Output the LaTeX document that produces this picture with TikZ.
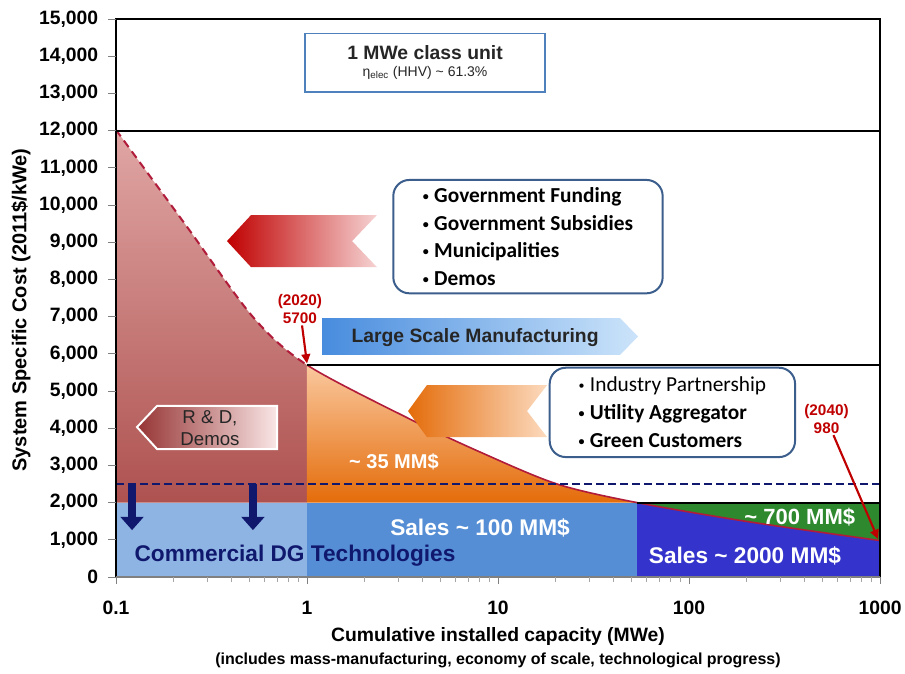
\documentclass[tikz,border=0pt]{standalone}
\usepackage{fontspec}
\setmainfont{Liberation Sans}
\newfontfamily\calibri{Carlito}
\usetikzlibrary{arrows.meta}

\definecolor{rdtop}{RGB}{224,166,164}
\definecolor{rdbot}{RGB}{174,82,80}
\definecolor{ortop}{RGB}{250,200,158}
\definecolor{orbot}{RGB}{228,108,10}
\definecolor{orlight}{RGB}{252,218,190}
\definecolor{ltblue}{RGB}{142,180,227}
\definecolor{mdblue}{RGB}{85,142,213}
\definecolor{dkblue}{RGB}{52,52,204}
\definecolor{dkgreen}{RGB}{46,136,46}
\definecolor{navy}{RGB}{16,24,110}
\definecolor{crimson}{RGB}{176,28,58}
\definecolor{annred}{RGB}{192,0,0}
\definecolor{pinklight}{RGB}{246,210,210}
\definecolor{rndleft}{RGB}{150,52,52}
\definecolor{rndright}{RGB}{250,230,230}
\definecolor{lsmleft}{RGB}{72,140,222}
\definecolor{lsmright}{RGB}{204,228,250}
\definecolor{boxblue}{RGB}{79,129,189}
\definecolor{roundblue}{RGB}{60,94,140}
\definecolor{darktext}{RGB}{38,38,38}

% small list bullet
\newcommand{\blt}{\raisebox{1.5pt}{\fontsize{9}{9}\selectfont •}\hspace{4pt}}

% cost curve in (decades above 0.1 MWe, thousand $/kWe)
\newcommand{\costcurve}{plot[smooth] coordinates {(0,12.02) (0.361,9.49) (0.717,6.99) (1,5.7) (1.529,4.27) (1.906,3.36) (2.309,2.5) (2.728,2.0) (3.319,1.48) (4,0.98)}}

\begin{document}
\begin{tikzpicture}[x=143.25pt, y=27.9pt,
    ticklabel/.style={inner sep=0pt, font=\fontsize{14.5}{16}\selectfont\bfseries},
    axistitle/.style={font=\fontsize{14.5}{16}\selectfont\bfseries},
    frameline/.style={line width=1.6pt, black},
    whitelabel/.style={text=white, font=\fontsize{17}{19}\selectfont\bfseries},
    yearlabel/.style={text=annred, align=center, inner sep=1pt, font=\fontsize{11.5}{13.5}\selectfont\bfseries},
    yeararrow/.style={annred, line width=1.6pt, -{Triangle[length=7pt,width=6.5pt]}},
    droparrow/.style={navy, line width=6pt, -{Triangle[length=10pt,width=17pt]}},
    bulletbox/.style={draw=roundblue, line width=1.5pt, rounded corners=12pt, align=left}]

  \fill[white] (-0.6073,-2.5806) rectangle (4.1309,15.511);
  \useasboundingbox (-0.6073,-2.5806) rectangle (4.1309,15.511);

  % blue sales bars
  \fill[ltblue] (0,0) rectangle (1,2);
  \fill[mdblue] (1,0) rectangle (2.728,2);
  \fill[dkgreen] (2.728,0) rectangle (4,2);
  \begin{scope}
    \clip (2.728,0) rectangle (4,2);
    \fill[dkblue] \costcurve -- (4,0) -- (0,0) -- cycle;
  \end{scope}

  % R&D and manufacturing regions under the curve
  \begin{scope}
    \clip (0,2) rectangle (1,15);
    \clip \costcurve -- (4,2) -- (0,2) -- cycle;
    \shade[top color=rdtop, bottom color=rdbot] (0,2) rectangle (1,12.02);
  \end{scope}
  \begin{scope}
    \clip (1,2) rectangle (4,15);
    \clip \costcurve -- (4,2) -- (0,2) -- cycle;
    \shade[top color=ortop, bottom color=orbot] (1,2) rectangle (4,5.7);
  \end{scope}

  % the curve
  \begin{scope}
    \clip (0,0) rectangle (1,15);
    \draw[crimson, line width=1.5pt, dash pattern=on 6pt off 4pt] \costcurve;
  \end{scope}
  \begin{scope}
    \clip (1,0) rectangle (4,15);
    \draw[crimson, line width=1.2pt] \costcurve;
  \end{scope}

  % 2500 $/kWe target
  \draw[navy, line width=1.4pt, dash pattern=on 6pt off 3pt] (0,2.5) -- (4,2.5);

  % frame
  \draw[frameline] (0,0) -- (0,15) -- (4,15) -- (4,0);
  \draw[frameline] (0,12) -- (4,12);
  \draw[frameline] (1,5.7) -- (4,5.7);
  \draw[frameline] (2.728,2) -- (4,2);
  \draw[gray, line width=0.8pt] (0,0) -- (4,0);

  % y axis
  \foreach \v in {0,...,15} {
    \draw[gray, line width=0.6pt] (-0.04,\v) -- (0,\v);
    \node (ytick\v) [ticklabel, anchor=east] at (-0.092,\v) {\ifnum\v=0 0\else\v,000\fi};
  }
  \node (ytitle) [axistitle, rotate=90, font=\fontsize{15}{17}\selectfont\bfseries] at (-0.497,7.18) {System Specific Cost (2011\$/kWe)};

  % x axis
  \foreach \dec in {0,...,3}
    \foreach \k in {2,...,9}
      \draw[gray!70, line width=0.5pt] ({\dec+log10(\k)},0) -- ++(0,-0.14);
  \foreach \dec/\lab in {0/0.1,1/1,2/10,3/100,4/1000} {
    \draw[gray, line width=0.6pt] (\dec,0) -- (\dec,-0.2);
    \node (xtick\dec) [ticklabel] at (\dec,-0.83) {\lab};
  }
  \node (xtitle) [axistitle] at (2.0,-1.61) {Cumulative installed capacity (MWe)};
  \node (xnote) [font=\fontsize{12}{14}\selectfont\bfseries] at (2.0,-2.23) {(includes mass-manufacturing, economy of scale, technological progress)};

  % unit box
  \node (unitbox) [draw=boxblue, line width=1pt, minimum width=180pt, minimum height=44pt, align=center, text=darktext] at (1.618,13.83)
    {{\fontsize{14.5}{17}\selectfont\bfseries 1 MWe class unit}\\[1pt]{\fontsize{10.5}{12}\selectfont η\textsubscript{elec} (HHV) \textasciitilde{} 61.3\%}};

  % funding arrows
  \shade[left color=annred, right color=pinklight] (0.581,9.03) -- (0.707,9.73) -- (1.366,9.73) -- (1.236,9.03) -- (1.366,8.33) -- (0.707,8.33) -- cycle;
  \shade[left color=orbot, right color=orlight] (1.529,4.46) -- (1.628,5.16) -- (2.257,5.16) -- (2.152,4.46) -- (2.257,3.76) -- (1.628,3.76) -- cycle;
  \shade[left color=rndleft, right color=rndright, draw=white, line width=1.5pt] (0.11,4.03) -- (0.215,4.60) -- (0.843,4.60) -- (0.843,3.44) -- (0.215,3.44) -- cycle;
  \node (rnd) [align=center, text=darktext, font=\fontsize{14}{16.5}\selectfont] at (0.492,4.0) {R \& D,\\Demos};
  \shade[left color=lsmleft, right color=lsmright] (1.079,6.96) -- (2.639,6.96) -- (2.733,6.465) -- (2.639,5.97) -- (1.079,5.97) -- cycle;
  \node (lsm) [text=darktext, font=\fontsize{14.5}{16}\selectfont\bfseries] at (1.88,6.45) {Large Scale Manufacturing};

  % bullet boxes
  \node (govbox) [bulletbox, minimum width=202pt, minimum height=85pt, font=\calibri\fontsize{16}{20.6}\selectfont\bfseries] at (2.157,9.15)
    {\blt Government Funding\\\blt Government Subsidies\\\blt Municipalities\\\blt Demos};
  \node (indbox) [bulletbox, minimum width=184pt, minimum height=67pt, font=\calibri\fontsize{16}{21}\selectfont\bfseries] at (2.913,4.425)
    {{\mdseries\blt Industry Partnership}\\\blt Utility Aggregator\\\blt Green Customers};

  % money labels
  \node (rd35) [whitelabel, font=\fontsize{15}{17}\selectfont\bfseries] at (1.455,3.09) {\textasciitilde{} 35 MM\$};
  \node (sales100) [whitelabel] at (1.906,1.32) {Sales \textasciitilde{} 100 MM\$};
  \node (sales2000) [whitelabel] at (3.293,0.565) {Sales \textasciitilde{} 2000 MM\$};
  \node (green700) [whitelabel, font=\fontsize{16.5}{19}\selectfont\bfseries] at (3.58,1.61) {\textasciitilde{} 700 MM\$};
  \node (dgtech) [text=navy, font=\fontsize{17}{19}\selectfont\bfseries] at (0.937,0.565) {Commercial DG Technologies};

  % drop arrows to commercial cost
  \coordinate (dropa) at (0.084,2.5);
  \coordinate (dropaend) at (0.084,1.26);
  \coordinate (dropb) at (0.717,2.5);
  \coordinate (dropbend) at (0.717,1.26);
  \draw[droparrow] (dropa) -- (dropaend);
  \draw[droparrow] (dropb) -- (dropbend);

  % year markers
  \node (yr2020) [yearlabel] at (0.963,7.2) {(2020)\\5700};
  \coordinate (pt2020) at (1,5.74);
  \draw[yeararrow] (yr2020) -- (pt2020);
  \node (yr2040) [yearlabel] at (3.72,4.25) {(2040)\\980};
  \coordinate (pt2040) at (3.99,1.02);
  \draw[yeararrow] (yr2040) -- (pt2040);
\end{tikzpicture}
\end{document}
